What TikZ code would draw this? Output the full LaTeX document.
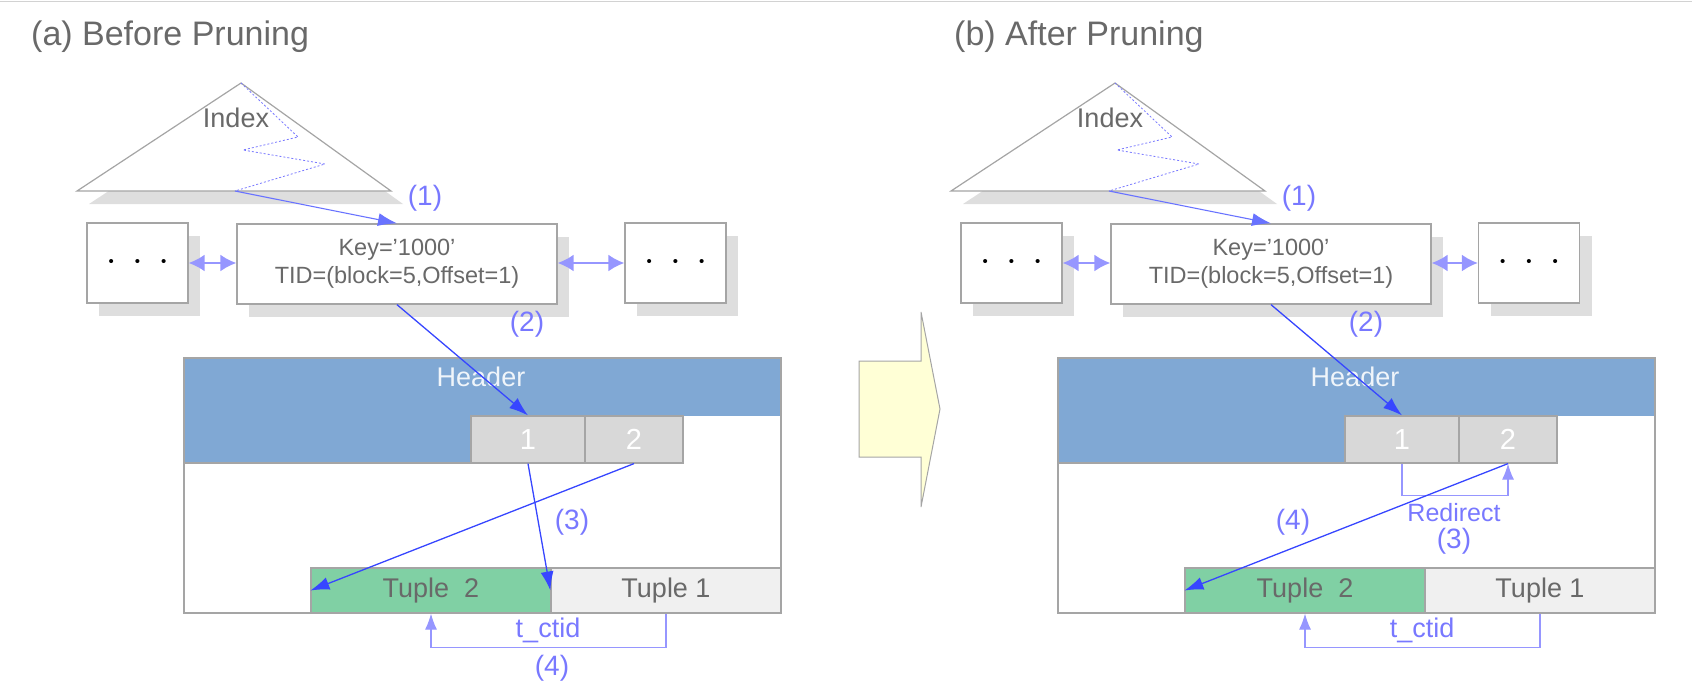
\documentclass[tikz,border=0pt]{standalone}
\usepackage{fontspec}
\setmainfont{Liberation Sans}
\usetikzlibrary{arrows.meta,shadows}

\definecolor{hdrblue}{RGB}{128,168,212}
\definecolor{tupgreen}{RGB}{128,208,164}
\definecolor{tupgray}{RGB}{240,240,240}
\definecolor{slotgray}{RGB}{216,216,216}
\definecolor{linegray}{RGB}{165,165,165}
\definecolor{txtgray}{RGB}{105,105,105}
\definecolor{shadegray}{RGB}{222,222,222}
\definecolor{ptrblue}{RGB}{55,70,255}
\definecolor{idxblue}{RGB}{105,115,255}
\definecolor{lblblue}{RGB}{120,120,255}
\definecolor{litblue}{RGB}{150,150,255}
\definecolor{nextyellow}{RGB}{255,255,214}

\newcommand{\setfs}[1]{\fontsize{#1}{#1}\selectfont}

\begin{document}
\begin{tikzpicture}[
  x=1pt, y=-1pt,
  every node/.style = {inner sep=0pt, text=txtgray},
  shade box/.style  = {general shadow={fill=shadegray, shadow xshift=12pt, shadow yshift=-13pt}},
  dotbox/.style     = {shade box, draw=linegray, line width=1.3pt, fill=white,
                       minimum width=101pt, minimum height=80pt, text=black},
  keybox/.style     = {shade box, draw=linegray, line width=1.3pt, fill=white,
                       minimum width=320pt, minimum height=80pt, align=center,
                       font=\fontsize{23.5}{28}\selectfont},
  slotbox/.style    = {draw=linegray, line width=1.2pt, fill=slotgray, text=white,
                       minimum height=47pt, font=\setfs{29}},
  tuplebox/.style   = {draw=linegray, line width=1.2pt, minimum height=45pt,
                       font=\setfs{27}},
  title/.style      = {anchor=base west, font=\setfs{34}},
  lbl/.style        = {text=lblblue, font=\setfs{28}},
  ptr/.style        = {ptrblue, line width=1.3pt, -{Latex[length=19pt,width=13pt]}},
  link/.style       = {litblue, line width=2pt,
                       {Latex[length=16pt,width=17pt]}-{Latex[length=16pt,width=17pt]}},
  ctid/.style       = {litblue, line width=1.2pt, -{Latex[length=16pt,width=12pt]}},
  zigzag/.style     = {lblblue, line width=0.8pt, dash pattern=on 2pt off 2pt},
]
\useasboundingbox (0,0) rectangle (1692,688);

% ── top rule and titles ─────────────────────────────────────────────────────
\draw[gray!35, line width=1pt] (0,1) -- (1692,1);
\node[title] (ttla) at (31,45)  {(a) Before Pruning};
\node[title] (ttlb) at (954,45) {(b) After Pruning};

% ── both panels: index, leaf page, heap page ───────────────────────────────
\foreach \p/\dx/\rx in {a/0/675.5, b/874/655} {
  \begin{scope}[xshift=\dx]
    % index triangle
    \filldraw[shade box, fill=white, draw=linegray, line width=1.2pt]
      (77,191) -- (241,83) -- (391,191) -- cycle;
    \draw[zigzag] (241,83) -- (298,137) -- (243,150) -- (325,164) -- (235,191);
    \coordinate (ix\p) at (235,191);
    \node[font=\setfs{27}] (idx\p) at (236,118) {Index};

    % leaf items
    \node[dotbox] (lft\p) at (137.5,263) {\setfs{15}•\hspace{21pt}•\hspace{21pt}•};
    \node[keybox] (key\p) at (397,264) {Key=’1000’\\TID=(block=5,Offset=1)};
    \node[dotbox] (rgt\p) at (\rx,263) {\setfs{15}•\hspace{21pt}•\hspace{21pt}•};
    \draw[link] (lft\p.east |- 0,263) -- (key\p.west |- 0,263);
    \draw[link] (key\p.east |- 0,263) -- (rgt\p.west |- 0,263);

    % heap page
    \fill[hdrblue] (184,358) rectangle (781,416);
    \fill[hdrblue] (184,416) rectangle (471,463);
    \draw[linegray, line width=1.2pt] (184,358) rectangle (781,613);
    \draw[linegray, line width=1.2pt] (184,463) -- (471,463);
    \node[text=white!88!hdrblue, font=\setfs{27}] (hdr\p) at (481,377) {Header};
    \node[slotbox, minimum width=114pt] (sa\p) at (528,439.5) {1};
    \node[slotbox, minimum width=98pt]  (sb\p) at (634,439.5) {2};
    \node[tuplebox, fill=tupgreen, minimum width=240pt] (tb\p) at (431,590.5) {Tuple\ \ 2};
    \node[tuplebox, fill=tupgray,  minimum width=230pt] (ta\p) at (666,590.5) {Tuple 1};

    % t_ctid link
    \draw[ctid] (ta\p.south) -- ++(0,34) -| (tb\p.south);
    \node[text=lblblue, font=\setfs{27}] (ct\p) at (548,630) {t\_ctid};

    % index -> leaf -> line pointer
    \draw[ptr, idxblue, line width=1.1pt] (ix\p) -- (key\p.north);
    \draw[ptr] (key\p.south) -- (sa\p.north);
  \end{scope}
}

% ── (a) before pruning ─────────────────────────────────────────────────────
\node[lbl] (n1a) at (425,198) {(1)};
\node[lbl] (n2a) at (527,324) {(2)};
\draw[ptr] (saa.south) -- (taa.west);
\draw[ptr] (sba.south) -- (tba.west);
\node[lbl] (n3a) at (572,522) {(3)};
\node[lbl] (n4a) at (552,668) {(4)};

% ── transition arrow ───────────────────────────────────────────────────────
\filldraw[fill=nextyellow, draw=linegray, line width=1pt]
  (859,361) -- (921,361) -- (921,312) -- (940,409) -- (921,507)
  -- (921,457) -- (859,457) -- cycle;

% ── (b) after pruning ──────────────────────────────────────────────────────
\node[lbl] (n1b) at (1299,198) {(1)};
\node[lbl] (n2b) at (1366,324) {(2)};
\draw[ctid] (sab.south) -- ++(0,32) -| (sbb.south);
\node[text=lblblue, font=\setfs{25}] (rdr) at (1454,513) {Redirect};
\node[lbl] (n3b) at (1454,541) {(3)};
\draw[ptr] (sbb.south) -- (tbb.west);
\node[lbl] (n4b) at (1293,522) {(4)};

\end{tikzpicture}
\end{document}
